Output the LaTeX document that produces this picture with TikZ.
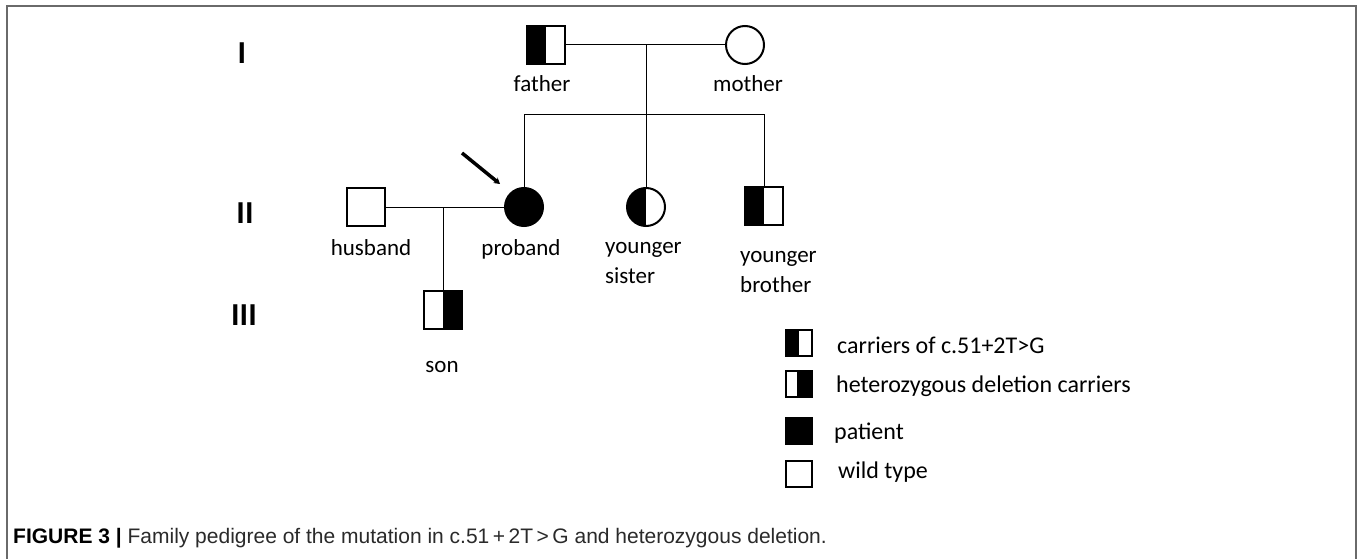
\documentclass[tikz,border=0pt]{standalone}
\usepackage{fontspec}
\setmainfont{Carlito}
\newfontfamily\capfont{Liberation Sans}
\usetikzlibrary{arrows.meta,calc}
\definecolor{framegray}{HTML}{6A6A6A}
\definecolor{captext}{HTML}{2A2A2A}
\begin{document}
\begin{tikzpicture}[x=1pt,y=-1pt,
  ind/.style={draw=black,line width=2pt,inner sep=0pt,minimum size=38pt,fill=white},
  sq/.style={ind,rectangle},
  ci/.style={ind,circle},
  lefthalf/.style={path picture={\fill[black] (path picture bounding box.south west) rectangle (path picture bounding box.north);}},
  righthalf/.style={path picture={\fill[black] (path picture bounding box.south) rectangle (path picture bounding box.north east);}},
  hetpart/.style={path picture={\fill[black] ($(path picture bounding box.south west)!0.43!(path picture bounding box.south east)$) rectangle (path picture bounding box.north east);}},
  affected/.style={fill=black},
  lbl/.style={font=\fontsize{23}{30}\selectfont,inner sep=0pt},
  legtxt/.style={font=\fontsize{24}{30}\selectfont,inner sep=0pt,anchor=base west},
  gen/.style={font=\bfseries\fontsize{32}{32}\selectfont,inner sep=0pt},
  link/.style={line width=1pt},
  leg/.style={draw=black,line width=2pt,inner sep=0pt,minimum size=26pt,fill=white,rectangle},
]
\useasboundingbox (0,0) rectangle (1357,559);
\fill[white] (0,0) rectangle (1357,559);
% frame
\draw[framegray,line width=1.5pt] (7,559) -- (7,6) -- (1356,6) -- (1356,559);

% generation numerals
\node[gen] (gI) at (242,53) {I};
\node[gen] (gII) at (245,213) {II};
\node[gen] (gIII) at (244,315) {III};

% individuals
\node[sq,lefthalf] (father) at (546,45) {};
\node[ci] (mother) at (745,45) {};
\node[sq] (husband) at (366,207) {};
\node[ci,affected] (proband) at (524,207) {};
\node[ci,lefthalf] (sister) at (646,207) {};
\node[sq,lefthalf] (brother) at (764,206) {};
\node[sq,righthalf] (son) at (443,310) {};

% labels
\node[lbl,anchor=base] (lfather) at (542,92) {father};
\node[lbl,anchor=base] (lmother) at (748,92) {mother};
\node[lbl,anchor=base] (lhusband) at (371,255) {husband};
\node[lbl,anchor=base] (lproband) at (521,255) {proband};
\node[lbl,anchor=base west] (lsister1) at (605,253) {younger};
\node[lbl,anchor=base west] (lsister2) at (605,283) {sister};
\node[lbl,anchor=base west] (lbrother1) at (740,262) {younger};
\node[lbl,anchor=base west] (lbrother2) at (740,292) {brother};
\node[lbl,anchor=base] (lson) at (442,372) {son};

% connectors
\coordinate (pm) at (646,45);
\coordinate (sib) at (646,115);
\coordinate (hp) at (443,207);
\draw[link] (father) -- (mother);
\draw[link] (pm) -- (sister);
\draw[link] (proband) -- (proband |- sib) -- (brother |- sib) -- (brother);
\draw[link] (husband) -- (proband);
\draw[link] (hp) -- (son);

% proband arrow
\coordinate (arrS) at (462,153);
\coordinate (arrE) at (500,184);
\draw[line width=3.5pt,-{Stealth[length=6pt,width=7pt]}] (arrS) -- (arrE);

% legend
\node[leg,lefthalf] (k1) at (799,342.5) {};
\node[leg,hetpart] (k2) at (799,384) {};
\node[leg,affected] (k3) at (799,430.5) {};
\node[leg] (k4) at (799,473.5) {};
\node[legtxt] (t1) at (837,353) {carriers of c.51+2T>G};
\node[legtxt] (t2) at (836,392) {heterozygous deletion carriers};
\node[legtxt] (t3) at (834,439) {patient};
\node[legtxt] (t4) at (838,478) {wild type};

% caption
\node[anchor=base west,inner sep=0pt,font=\capfont\fontsize{21}{24}\selectfont,text=captext] (cap) at (13,543)
  {\textcolor{black}{\textbf{FIGURE 3 |}} Family pedigree of the mutation in c.51\,+\,2T\,>\,G and heterozygous deletion.};
\end{tikzpicture}
\end{document}
